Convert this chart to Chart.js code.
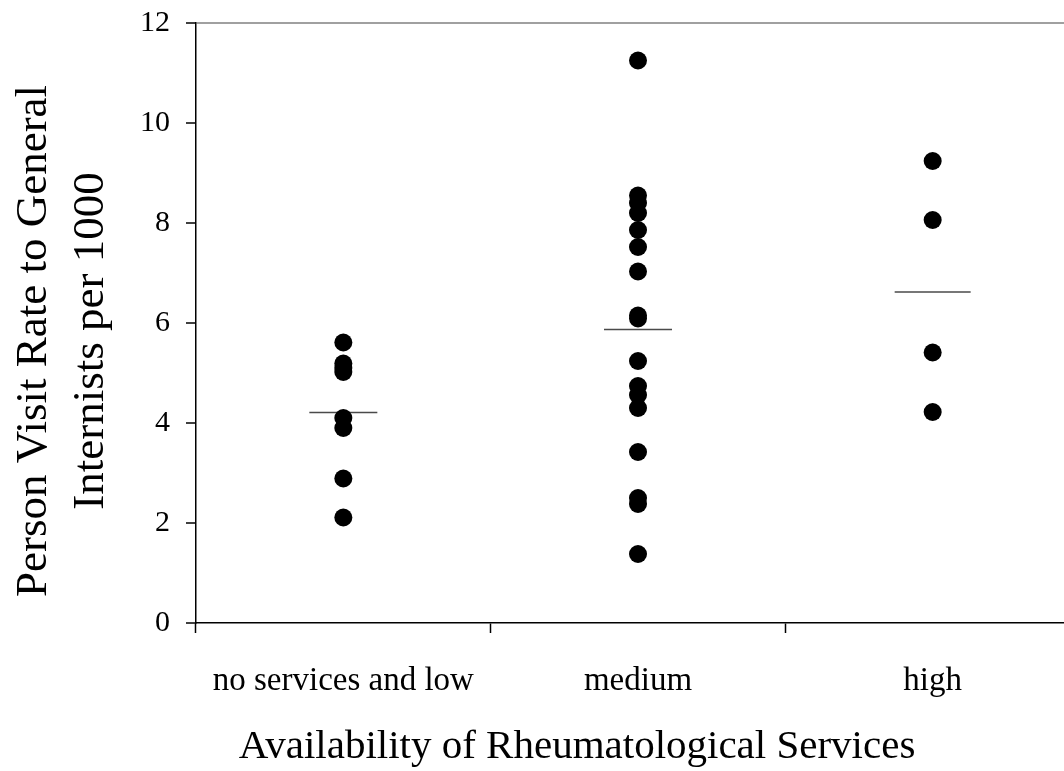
<!DOCTYPE html>
<html>
<head>
<meta charset="utf-8">
<script src="https://cdn.jsdelivr.net/npm/chart.js@4.4.1/dist/chart.umd.min.js"></script>
<style>
  html, body { margin: 0; padding: 0; background: #fff; overflow: hidden; }
  #chart { display: block; }
</style>
</head>
<body>
<canvas id="chart" width="1090" height="771"></canvas>
<script>
// Categories on the x axis
const categories = ["no services and low", "medium", "high"];

// Person visit rates, one list per category
const lowValues = [5.61, 5.19, 5.10, 5.02, 4.10, 3.90, 2.89, 2.11];
const mediumValues = [11.25, 8.55, 8.40, 8.20, 7.86, 7.52, 7.03, 6.15, 6.09, 5.24, 4.74, 4.56, 4.30, 3.42, 2.50, 2.38, 1.38];
const highValues = [9.24, 8.06, 5.41, 4.22];

// Horizontal mean marks
const meanValues = [4.21, 5.87, 6.62];

// Y axis range
const yMin = 0;
const yMax = 12;
const yStep = 2;

// Axis titles
const xTitle = "Availability of Rheumatological Services";
const yTitleLines = ["Person Visit Rate to General", "Internists per 1000"];

const FONT = "'Liberation Serif', 'Times New Roman', serif";

// Build scatter points from the named lists
function toPoints(category, values) {
  return values.map((v) => ({ x: category, y: v }));
}

const dotPoints = []
  .concat(toPoints(categories[0], lowValues))
  .concat(toPoints(categories[1], mediumValues))
  .concat(toPoints(categories[2], highValues));

const meanPoints = meanValues.map((v, i) => ({ x: categories[i], y: v }));

// Axis titles drawn by hand (they are not centred on the plot area)
const axisTitles = {
  id: "axisTitles",
  afterDraw(chart) {
    const ctx = chart.ctx;
    ctx.save();
    ctx.fillStyle = "#000";
    ctx.textAlign = "center";
    ctx.textBaseline = "middle";

    ctx.font = "45px " + FONT;
    ctx.translate(34, 341);
    ctx.rotate(-Math.PI / 2);
    yTitleLines.forEach((line, i) => ctx.fillText(line, 0, i * 57));
    ctx.restore();

    ctx.save();
    ctx.fillStyle = "#000";
    ctx.textAlign = "center";
    ctx.textBaseline = "middle";
    ctx.font = "41px " + FONT;
    ctx.fillText(xTitle, 577, 747);
    ctx.restore();
  },
};

new Chart(document.getElementById("chart"), {
  type: "scatter",
  data: {
    labels: categories,
    datasets: [
      {
        label: "rate",
        data: dotPoints,
        pointStyle: "circle",
        pointRadius: 9,
        pointHoverRadius: 9,
        pointBackgroundColor: "#000",
        pointBorderColor: "#000",
        pointBorderWidth: 0,
      },
      {
        label: "mean",
        data: meanPoints,
        pointStyle: "line",
        pointRadius: [34, 34, 38],
        pointHoverRadius: [34, 34, 38],
        pointBorderColor: "#4a4a4a",
        pointBorderWidth: 1.5,
      },
    ],
  },
  options: {
    responsive: false,
    animation: false,
    events: [],
    layout: {
      autoPadding: false,
      padding: { left: 0, top: 23, right: 10, bottom: 0 },
    },
    plugins: {
      legend: { display: false },
      tooltip: { enabled: false },
    },
    scales: {
      x: {
        type: "category",
        offset: true,
        grid: {
          offset: true,
          drawOnChartArea: false,
          drawTicks: true,
          tickLength: 10,
          tickColor: "#000",
          tickWidth: 1.5,
        },
        border: { color: "#000", width: 1.5 },
        ticks: {
          color: "#000",
          font: { family: FONT, size: 33 },
          padding: 29,
          maxRotation: 0,
          autoSkip: false,
        },
        afterFit(scale) {
          scale.height = 148;
          scale.paddingLeft = 0;
          scale.paddingRight = 0;
        },
      },
      y: {
        min: yMin,
        max: yMax,
        ticks: {
          stepSize: yStep,
          color: "#000",
          font: { family: FONT, size: 30 },
          padding: 16,
        },
        grid: {
          color: (c) => (c.tick && c.tick.value === yMax ? "#a0a0a0" : "rgba(0,0,0,0)"),
          lineWidth: 2,
          tickLength: 10,
          tickColor: "#000",
          tickWidth: 1.5,
        },
        border: { color: "#000", width: 1.5 },
        afterFit(scale) {
          scale.width = 196;
          scale.paddingTop = 0;
          scale.paddingBottom = 0;
        },
      },
    },
  },
  plugins: [axisTitles],
});
</script>
</body>
</html>
